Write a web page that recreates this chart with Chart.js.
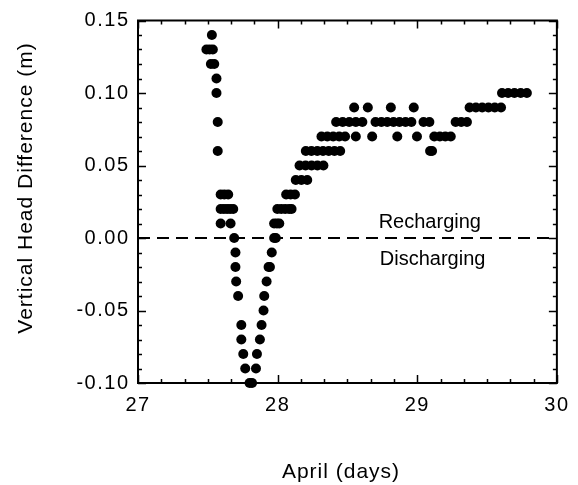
<!DOCTYPE html>
<html>
<head>
<meta charset="utf-8">
<script src="https://cdn.jsdelivr.net/npm/chart.js@4.4.0/dist/chart.umd.min.js"></script>
<style>
  html, body { margin: 0; padding: 0; background: #fff; }
</style>
</head>
<body>
<canvas id="headChart" width="578" height="485"></canvas>
<script>
// April days, falling limb (27 April)
const fallDays = [27.490, 27.513, 27.536, 27.529, 27.522, 27.546, 27.562, 27.562, 27.571, 27.571,
  27.592, 27.618, 27.646, 27.592, 27.615, 27.638, 27.660, 27.682, 27.592, 27.663,
  27.689, 27.698, 27.698, 27.703, 27.717, 27.740, 27.740, 27.754, 27.768, 27.799, 27.817];
const fallHeads = [0.13, 0.13, 0.13, 0.14, 0.12, 0.12, 0.11, 0.10, 0.08, 0.06,
  0.03, 0.03, 0.03, 0.02, 0.02, 0.02, 0.02, 0.02, 0.01, 0.01,
  0.00, -0.01, -0.02, -0.03, -0.04, -0.06, -0.07, -0.08, -0.09, -0.10, -0.10];

// rising limb
const riseDays = [27.845, 27.852, 27.873, 27.885, 27.899, 27.904, 27.921, 27.935, 27.945, 27.958,
  27.975, 27.987, 27.975, 27.995, 28.012,
  27.998, 28.026, 28.054, 28.082, 28.100,
  28.061, 28.093, 28.124,
  28.130, 28.170, 28.212,
  28.157, 28.200, 28.243, 28.285, 28.328,
  28.202, 28.242, 28.284, 28.325, 28.366, 28.407, 28.448];
const riseHeads = [-0.09, -0.08, -0.07, -0.06, -0.05, -0.04, -0.03, -0.02, -0.02, -0.01,
  0.00, 0.00, 0.01, 0.01, 0.01,
  0.02, 0.02, 0.02, 0.02, 0.02,
  0.03, 0.03, 0.03,
  0.04, 0.04, 0.04,
  0.05, 0.05, 0.05, 0.05, 0.05,
  0.06, 0.06, 0.06, 0.06, 0.06, 0.06, 0.06];

// plateau, 28-29 April
const plateauDays = [28.314, 28.356, 28.398, 28.441, 28.483, 28.560, 28.677, 28.857, 28.998,
  28.419, 28.466, 28.513, 28.560, 28.607,
  28.548, 28.646,
  28.701, 28.743, 28.785, 28.830, 28.873, 28.916, 28.958,
  28.811, 28.975,
  29.045, 29.087, 29.092, 29.106,
  29.122, 29.162, 29.201, 29.240,
  29.275, 29.315, 29.356,
  29.375, 29.420, 29.465, 29.510, 29.555, 29.600,
  29.607, 29.651, 29.696, 29.741, 29.785];
const plateauHeads = [0.07, 0.07, 0.07, 0.07, 0.07, 0.07, 0.07, 0.07, 0.07,
  0.08, 0.08, 0.08, 0.08, 0.08,
  0.09, 0.09,
  0.08, 0.08, 0.08, 0.08, 0.08, 0.08, 0.08,
  0.09, 0.09,
  0.08, 0.08, 0.06, 0.06,
  0.07, 0.07, 0.07, 0.07,
  0.08, 0.08, 0.08,
  0.09, 0.09, 0.09, 0.09, 0.09, 0.09,
  0.10, 0.10, 0.10, 0.10, 0.10];

const xTickLabels = [27, 28, 29, 30];
const yTickLabels = [-0.10, -0.05, 0.00, 0.05, 0.10, 0.15];

const allDays = fallDays.concat(riseDays, plateauDays);
const allHeads = fallHeads.concat(riseHeads, plateauHeads);
const points = allDays.map((d, i) => ({ x: d, y: allHeads[i] }));

const FONT = 'Liberation Sans, Arial, Helvetica, sans-serif';

// the old figure's lettering is set a bit wide
const wideText = {
  id: 'wideText',
  beforeDraw(chart) { chart.ctx.letterSpacing = '1.5px'; },
  beforeDatasetsDraw(chart) { chart.ctx.letterSpacing = '0px'; }
};

// dashed zero line and the two labels
const zeroLine = {
  id: 'zeroLine',
  beforeDatasetsDraw(chart) {
    const { ctx, chartArea, scales } = chart;
    const y0 = scales.y.getPixelForValue(0);
    ctx.save();
    ctx.strokeStyle = '#000';
    ctx.lineWidth = 2;
    ctx.setLineDash([12, 7]);
    ctx.beginPath();
    ctx.moveTo(chartArea.left, y0);
    ctx.lineTo(chartArea.right, y0);
    ctx.stroke();
    ctx.setLineDash([]);
    ctx.fillStyle = '#000';
    ctx.font = '20px ' + FONT;
    ctx.textAlign = 'center';
    ctx.textBaseline = 'alphabetic';
    ctx.fillText('Recharging', scales.x.getPixelForValue(29.09), y0 - 10);
    ctx.fillText('Discharging', scales.x.getPixelForValue(29.11), y0 + 27);
    ctx.restore();
  }
};

// box with inward ticks on all four sides, plus the axis titles
const frame = {
  id: 'frame',
  afterDatasetsDraw(chart) {
    const { ctx, chartArea: a, scales } = chart;
    ctx.save();
    ctx.strokeStyle = '#000';
    ctx.lineWidth = 2;
    ctx.strokeRect(a.left, a.top, a.right - a.left, a.bottom - a.top);
    ctx.lineWidth = 1.5;
    ctx.beginPath();
    for (let i = 0; i <= 18; i++) {
      const px = Math.round(scales.x.getPixelForValue(27 + i / 6)) + 0.5;
      const len = i % 6 === 0 ? 8 : 4;
      ctx.moveTo(px, a.bottom); ctx.lineTo(px, a.bottom - len);
      ctx.moveTo(px, a.top); ctx.lineTo(px, a.top + len);
    }
    for (let i = 0; i <= 25; i++) {
      const py = Math.round(scales.y.getPixelForValue(-0.10 + i / 100)) + 0.5;
      const len = i % 5 === 0 ? 8 : 4;
      ctx.moveTo(a.left, py); ctx.lineTo(a.left + len, py);
      ctx.moveTo(a.right, py); ctx.lineTo(a.right - len, py);
    }
    ctx.stroke();

    ctx.fillStyle = '#000';
    ctx.font = '21px ' + FONT;
    ctx.letterSpacing = '1px';
    ctx.textAlign = 'center';
    ctx.textBaseline = 'middle';
    ctx.fillText('April (days)', 341, 472);
    ctx.translate(26, 188);
    ctx.rotate(-Math.PI / 2);
    ctx.fillText('Vertical Head Difference (m)', 0, 0);
    ctx.restore();
  }
};

new Chart(document.getElementById('headChart'), {
  type: 'scatter',
  data: {
    datasets: [{
      data: points,
      backgroundColor: '#000',
      borderWidth: 0,
      pointRadius: 5,
      pointHoverRadius: 5,
      clip: false
    }]
  },
  options: {
    responsive: false,
    animation: false,
    layout: { padding: { left: 0, right: 13, top: 19.5, bottom: 0 } },
    plugins: { legend: { display: false }, tooltip: { enabled: false } },
    scales: {
      x: {
        type: 'linear',
        min: 27,
        max: 30,
        afterBuildTicks: s => { s.ticks = xTickLabels.map(v => ({ value: v })); },
        afterFit: s => { s.height = 102; },
        grid: { display: false, drawTicks: false },
        border: { display: false },
        ticks: {
          color: '#000',
          font: { family: FONT, size: 20 },
          padding: 10,
          maxRotation: 0,
          callback: v => String(v)
        }
      },
      y: {
        min: -0.10,
        max: 0.15,
        afterBuildTicks: s => { s.ticks = yTickLabels.map(v => ({ value: v })); },
        afterFit: s => { s.width = 138; },
        grid: { display: false, drawTicks: false },
        border: { display: false },
        ticks: {
          color: '#000',
          font: { family: FONT, size: 20 },
          padding: 8.5,
          callback: v => (Math.abs(v) < 1e-9 ? 0 : v).toFixed(2)
        }
      }
    }
  },
  plugins: [wideText, zeroLine, frame]
});
</script>
</body>
</html>
